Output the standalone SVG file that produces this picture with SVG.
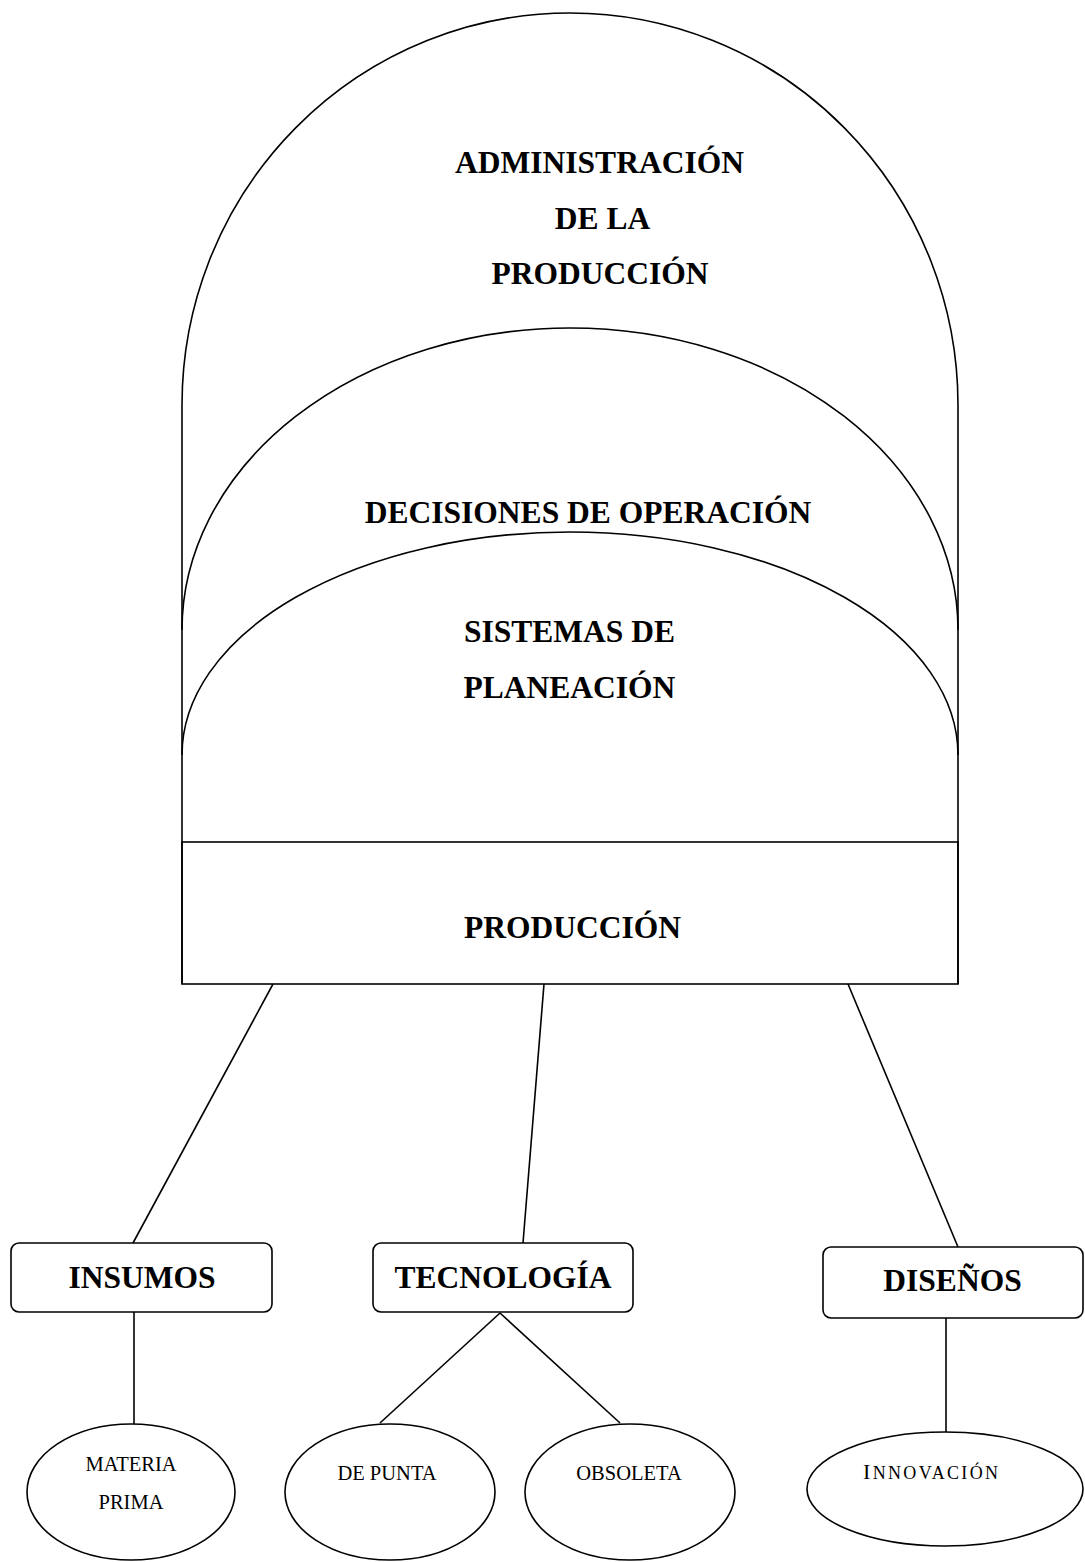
<svg xmlns="http://www.w3.org/2000/svg" width="1085" height="1562" viewBox="0 0 1085 1562">
<style>
.s{fill:none;stroke:#000;stroke-width:1.6}
.b{font-family:"Liberation Serif","Times New Roman",serif;font-weight:bold;font-size:31.5px;text-anchor:middle;fill:#000}
.r{font-family:"Liberation Serif","Times New Roman",serif;font-size:20.5px;text-anchor:middle;fill:#000}
</style>
<rect width="1085" height="1562" fill="#fff"/>
<g id="admin">
<path class="s" d="M182,984 L182,405 A388,392 0 0 1 958,405 L958,984"/>
<text class="b" x="599.5" y="173">ADMINISTRACIÓN</text>
<text class="b" x="602.5" y="229">DE LA</text>
<text class="b" x="600" y="284">PRODUCCIÓN</text>
</g>
<g id="decisiones">
<path class="s" d="M182,630 A388,302 0 0 1 958,630"/>
<text class="b" x="588" y="523">DECISIONES DE OPERACIÓN</text>
</g>
<g id="sistemas">
<path class="s" d="M182,755 A388,223 0 0 1 958,755"/>
<text class="b" x="569.5" y="642">SISTEMAS DE</text>
<text class="b" x="569.5" y="698">PLANEACIÓN</text>
</g>
<g id="produccion">
<rect class="s" x="182" y="842" width="776" height="142"/>
<text class="b" x="572.5" y="938">PRODUCCIÓN</text>
</g>
<g id="connectors" class="s">
<line x1="273" y1="984" x2="133" y2="1243"/>
<line x1="544" y1="984" x2="523" y2="1243"/>
<line x1="848" y1="984" x2="958" y2="1247"/>
<line x1="134" y1="1312" x2="134" y2="1424"/>
<line x1="500" y1="1313" x2="380" y2="1423"/>
<line x1="500" y1="1313" x2="620" y2="1423"/>
<line x1="946" y1="1318" x2="946" y2="1432"/>
</g>
<g id="insumos">
<rect class="s" x="11" y="1243" width="261" height="69" rx="8"/>
<text class="b" x="142" y="1288">INSUMOS</text>
</g>
<g id="tecnologia">
<rect class="s" x="373" y="1243" width="260" height="69" rx="8"/>
<text class="b" x="503" y="1288">TECNOLOGÍA</text>
</g>
<g id="disenos">
<rect class="s" x="823" y="1247" width="260" height="71" rx="8"/>
<text class="b" x="952.5" y="1291">DISEÑOS</text>
</g>
<g id="materia">
<ellipse class="s" cx="131" cy="1492" rx="104" ry="68"/>
<text class="r" x="131" y="1471">MATERIA</text>
<text class="r" x="131" y="1509">PRIMA</text>
</g>
<g id="depunta">
<ellipse class="s" cx="390" cy="1492" rx="105" ry="68"/>
<text class="r" x="387" y="1480">DE PUNTA</text>
</g>
<g id="obsoleta">
<ellipse class="s" cx="630" cy="1492" rx="105" ry="68"/>
<text class="r" x="629" y="1480">OBSOLETA</text>
</g>
<g id="innovacion">
<ellipse class="s" cx="945" cy="1489" rx="138" ry="57"/>
<text class="r" x="863" y="1479" style="text-anchor:start" textLength="135" lengthAdjust="spacing"><tspan font-size="22px">I</tspan><tspan font-size="18px">NNOVACIÓN</tspan></text>
</g>
</svg>
